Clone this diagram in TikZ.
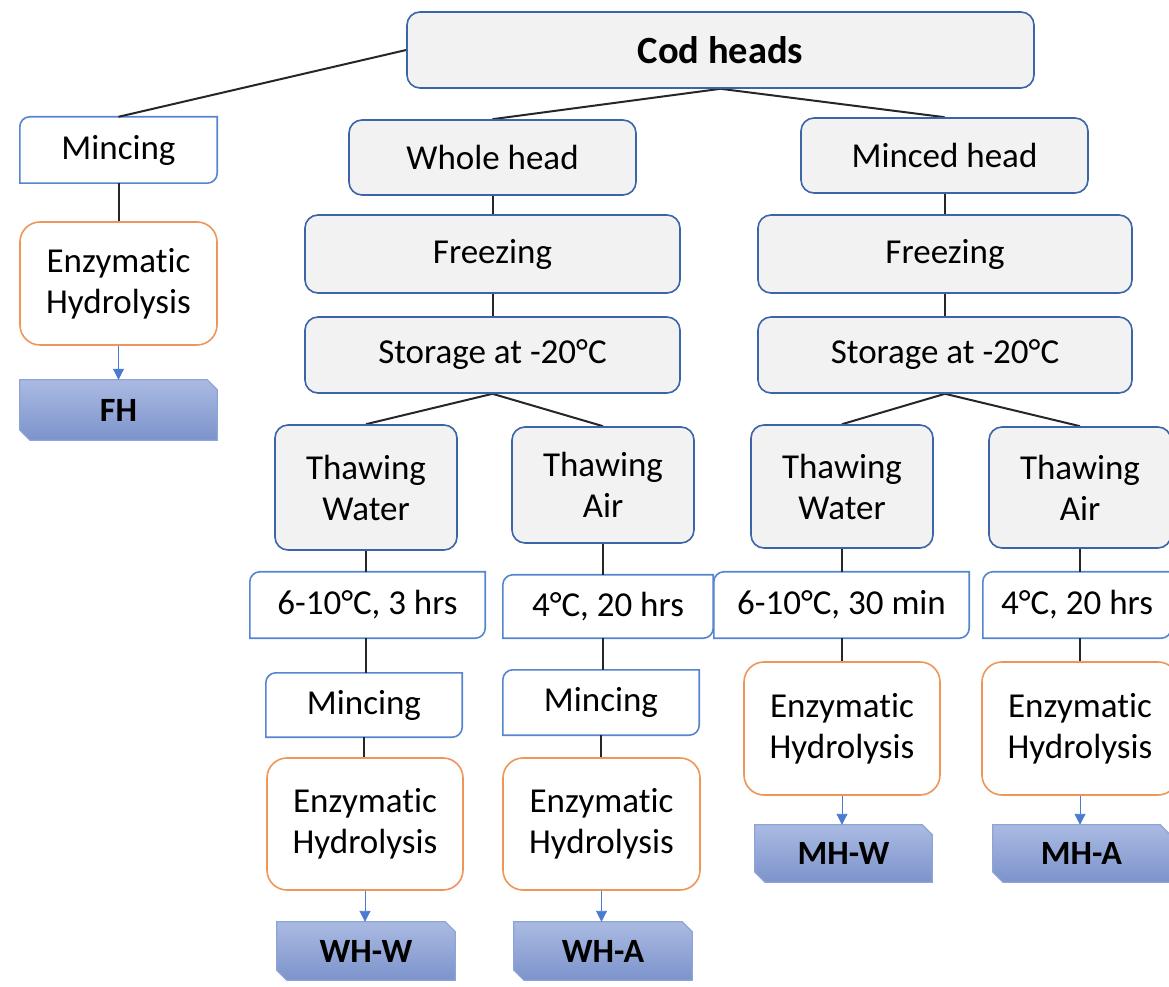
\documentclass[tikz,border=0pt]{standalone}
\usepackage{fontspec}
\setmainfont{Carlito}[Ligatures={NoCommon}]
\usetikzlibrary{backgrounds,arrows.meta}
\definecolor{gborder}{HTML}{3C64A8}
\definecolor{gfill}{HTML}{F2F2F2}
\definecolor{wborder}{HTML}{5585D0}
\definecolor{orangeb}{HTML}{F0955A}
\definecolor{rtop}{HTML}{AABAE2}
\definecolor{rbot}{HTML}{7C93CB}
\definecolor{rborder}{HTML}{8EA4D8}
\definecolor{arrowc}{HTML}{4A7BD0}
\newcommand\rdiag[1]{\draw[wborder,fill=white,line width=1.6pt] (#1.south west) -- ([yshift=-10pt]#1.north west) arc[start angle=180,end angle=90,radius=10pt] -- (#1.north east) -- ([yshift=10pt]#1.south east) arc[start angle=0,end angle=-90,radius=10pt] -- cycle;}
\newcommand\snipbox[1]{\path[draw=rborder,line width=1.2pt,top color=rtop,bottom color=rbot] ([xshift=10pt]#1.south west) -- (#1.south east) -- ([yshift=-10pt]#1.north east) -- ([xshift=-10pt]#1.north east) -- (#1.north west) -- ([yshift=10pt]#1.south west) -- cycle;}
\begin{document}
\begin{tikzpicture}[x=1pt,y=1pt,
 txt/.style={font=\fontsize{35}{41}\selectfont, align=center, inner sep=0pt},
 gbox/.style={txt, draw=gborder, fill=gfill, line width=1.6pt, rounded corners=13pt},
 obox/.style={txt, draw=orangeb, fill=white, line width=1.6pt, rounded corners=20pt},
 wbox/.style={txt},
 rbox/.style={txt, font=\fontsize{34}{40}\selectfont\bfseries},
 conn/.style={black!85, line width=2pt},
 arr/.style={draw=arrowc, line width=0.9pt, -{Triangle[length=11pt,width=11pt]}},
]
\useasboundingbox (0,0) rectangle (1169,986);
% top
\node[gbox, font=\fontsize{38.5}{44}\selectfont\bfseries, minimum width=627, minimum height=76] (cod) at (720.5,936) {Cod heads};
% left column
\node[wbox, minimum width=197, minimum height=66] (ml) at (118.5,836) {Mincing};
\node[obox, minimum width=197, minimum height=123] (el) at (118.5,702.5) {Enzymatic\\Hydrolysis};
\node[rbox, minimum width=197, minimum height=60] (fh) at (118.5,576) {FH};
% whole head branch
\node[gbox, minimum width=287, minimum height=75] (wh) at (492.5,828.5) {Whole head};
\node[gbox, minimum width=375, minimum height=78] (fl) at (492.5,732) {Freezing};
\node[gbox, minimum width=375, minimum height=76] (sl) at (492.5,631) {Storage at -20°C};
\node[gbox, minimum width=182, minimum height=125] (twl) at (366,498.5) {Thawing\\Water};
\node[gbox, minimum width=182, minimum height=116] (tal) at (603,501) {Thawing\\Air};
\node[wbox, minimum width=235, minimum height=66] (c1) at (367.5,381) {6-10°C, 3 hrs};
\node[wbox, minimum width=210, minimum height=63] (c2) at (608,379.5) {4°C, 20 hrs};
\node[wbox, minimum width=196, minimum height=64] (ml2) at (364,281) {Mincing};
\node[wbox, minimum width=196, minimum height=65] (mr2) at (601,283.5) {Mincing};
\node[obox, minimum width=196, minimum height=132] (el2) at (365,162) {Enzymatic\\Hydrolysis};
\node[obox, minimum width=197, minimum height=132] (er2) at (601.5,162) {Enzymatic\\Hydrolysis};
\node[rbox, minimum width=178, minimum height=58] (whw) at (366,35) {WH-W};
\node[rbox, minimum width=178, minimum height=58] (wha) at (603,35) {WH-A};
% minced head branch
\node[gbox, minimum width=287, minimum height=75] (mh) at (944.5,830.5) {Minced head};
\node[gbox, minimum width=374, minimum height=78] (fr) at (945,732) {Freezing};
\node[gbox, minimum width=374, minimum height=76] (sr) at (945,631) {Storage at -20°C};
\node[gbox, minimum width=182, minimum height=123] (twr) at (842,499.5) {Thawing\\Water};
\node[gbox, minimum width=182, minimum height=121] (tar) at (1080,498.5) {Thawing\\Air};
\node[wbox, minimum width=255, minimum height=66] (c3) at (841.5,381) {6-10°C, 30 min};
\node[wbox, minimum width=188, minimum height=66] (c4) at (1077,381) {4°C, 20 hrs};
\node[obox, minimum width=196, minimum height=133] (em1) at (842,257.5) {Enzymatic\\Hydrolysis};
\node[obox, minimum width=196, minimum height=133] (em2) at (1080,257.5) {Enzymatic\\Hydrolysis};
\node[rbox, minimum width=177, minimum height=57] (mhw) at (843.5,132.5) {MH-W};
\node[rbox, minimum width=177, minimum height=57] (mha) at (1081.5,132.5) {MH-A};
\begin{pgfonlayer}{background}
\rdiag{ml}\rdiag{c1}\rdiag{c2}\rdiag{c3}\rdiag{c4}\rdiag{ml2}\rdiag{mr2}
\snipbox{fh}\snipbox{whw}\snipbox{wha}\snipbox{mhw}\snipbox{mha}
\draw[conn] (cod.west) -- (ml.north);
\draw[conn] (cod.south) -- (wh.north);
\draw[conn] (cod.south) -- (mh.north);
\draw[conn] (ml.south) -- (ml.south |- el.north);
\draw[conn] (wh.south) -- (wh.south |- fl.north);
\draw[conn] (fl.south) -- (fl.south |- sl.north);
\draw[conn] (sl.south) -- (twl.north);
\draw[conn] (sl.south) -- (tal.north);
\draw[conn] (twl.south) -- (twl.south |- c1.north);
\draw[conn] (tal.south) -- (tal.south |- c2.north);
\draw[conn] (twl.south |- c1.south) -- (twl.south |- ml2.north);
\draw[conn] (tal.south |- c2.south) -- (tal.south |- mr2.north);
\draw[conn] (ml2.south) -- (ml2.south |- el2.north);
\draw[conn] (mr2.south) -- (mr2.south |- er2.north);
\draw[conn] (mh.south) -- (mh.south |- fr.north);
\draw[conn] (fr.south) -- (fr.south |- sr.north);
\draw[conn] (sr.south) -- (twr.north);
\draw[conn] (sr.south) -- (tar.north);
\draw[conn] (twr.south) -- (twr.south |- c3.north);
\draw[conn] (tar.south) -- (tar.south |- c4.north);
\draw[conn] (twr.south |- c3.south) -- (twr.south |- em1.north);
\draw[conn] (tar.south |- c4.south) -- (tar.south |- em2.north);
\end{pgfonlayer}
\draw[arr] (el.south) -- (el.south |- fh.north);
\draw[arr] (el2.south) -- (el2.south |- whw.north);
\draw[arr] (er2.south) -- (er2.south |- wha.north);
\draw[arr] (em1.south) -- (em1.south |- mhw.north);
\draw[arr] (em2.south) -- (em2.south |- mha.north);
\end{tikzpicture}
\end{document}
